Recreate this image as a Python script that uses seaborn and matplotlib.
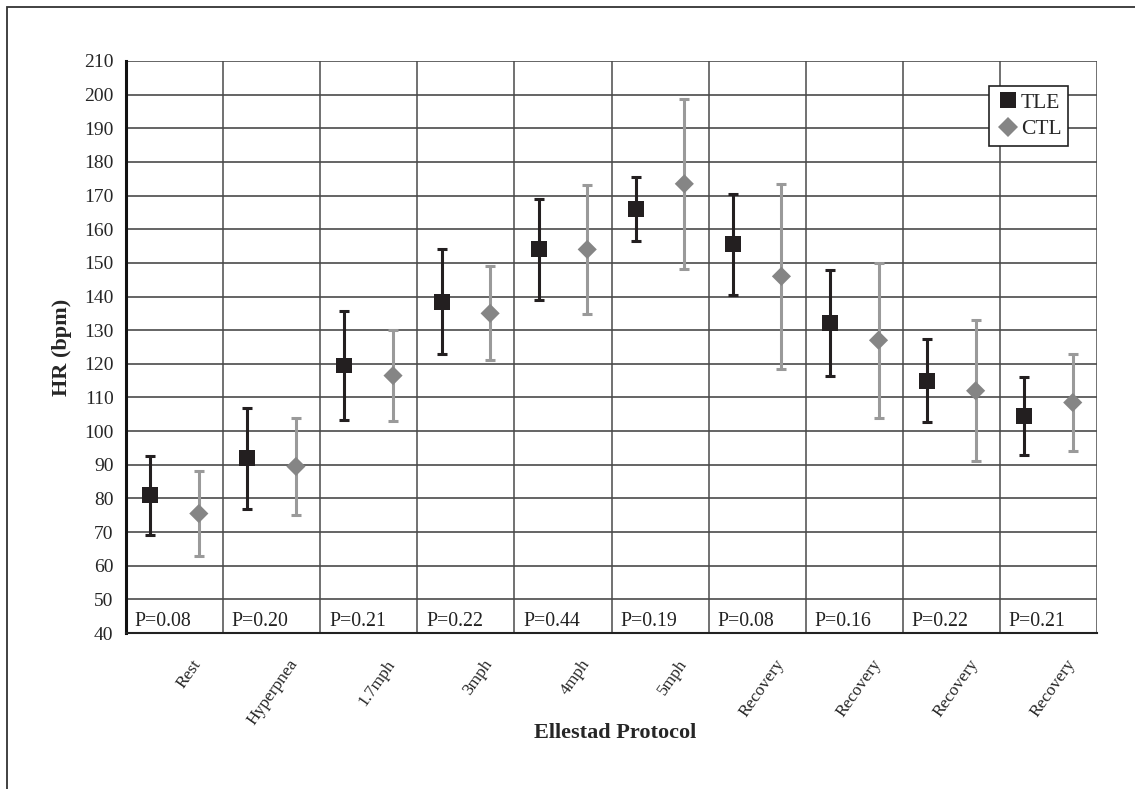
import matplotlib
matplotlib.use("Agg")
import matplotlib.pyplot as plt
import matplotlib.transforms as mtrans
from matplotlib.patches import Rectangle
import numpy as np
import pandas as pd
import seaborn as sns

stages = ["Rest", "Hyperpnea", "1.7mph", "3mph", "4mph", "5mph",
          "Recovery", "Recovery", "Recovery", "Recovery"]
p_values = ["P=0.08", "P=0.20", "P=0.21", "P=0.22", "P=0.44",
            "P=0.19", "P=0.08", "P=0.16", "P=0.22", "P=0.21"]
tle_mean = [81, 92, 119.5, 138.5, 154, 166, 155.5, 132, 115, 104.5]
tle_sd = [11.75, 15, 16.25, 15.5, 15, 9.5, 15, 15.75, 12.25, 11.5]
ctl_mean = [75.5, 89.5, 116.5, 135, 154, 173.5, 146, 127, 112, 108.5]
ctl_sd = [12.5, 14.5, 13.5, 14, 19.25, 25.25, 27.5, 23, 21, 14.5]

sns.set_style("white")
plt.rcParams['font.family'] = ['Liberation Serif', 'DejaVu Serif']

n = len(stages)
idx = np.arange(n)
df = pd.DataFrame({
    "x": np.concatenate([idx + 0.25, idx + 0.75]),
    "hr": tle_mean + ctl_mean,
    "sd": tle_sd + ctl_sd,
    "group": ["TLE"] * n + ["CTL"] * n,
})

fig = plt.figure(figsize=(11.35, 7.89), dpi=100)
ax = fig.add_axes([126 / 1135, 1 - 633 / 789, 971 / 1135, 572 / 789])

colors = {"TLE": "#231f20", "CTL": "#858585"}
bar_colors = {"TLE": "#231f20", "CTL": "#9a9a9a"}
for g, sub in df.groupby("group"):
    ax.errorbar(sub["x"], sub["hr"], yerr=sub["sd"], fmt="none",
                ecolor=bar_colors[g], elinewidth=2.2, capsize=3.6,
                capthick=2.2, zorder=3)

sns.scatterplot(data=df, x="x", y="hr", hue="group", style="group",
                size="group", sizes={"TLE": 132, "CTL": 95},
                palette=colors, markers={"TLE": "s", "CTL": "D"},
                linewidth=0, ax=ax, zorder=4)

ax.set_xlim(0, n)
ax.set_ylim(40, 210)
ax.set_yticks(np.arange(40, 211, 10))
ax.set_xticks(idx + 0.5)
ax.set_xticklabels(stages, rotation=55, ha="right", rotation_mode="anchor",
                   fontsize=12.5)
ax.set_xticks(idx, minor=True)
ax.tick_params(axis="x", which="major", length=0, pad=17)
ax.tick_params(axis="x", which="minor", length=7, width=1.2, color="#222")
ax.tick_params(axis="y", length=6, width=1.2, color="#222", labelsize=14,
               pad=3)
ax.grid(False)
for v in np.arange(50, 211, 10):
    ax.axhline(v, color="#3a3a3a", lw=1.1, zorder=1)
for v in range(1, n + 1):
    ax.axvline(v, color="#4a4a4a", lw=1.1, zorder=1)

shift = mtrans.ScaledTranslation(17 / 100, 0, fig.dpi_scale_trans)
for lab in ax.get_xticklabels():
    lab.set_transform(lab.get_transform() + shift)

for s in ["top", "right"]:
    ax.spines[s].set_visible(False)
ax.spines["left"].set_color("#111")
ax.spines["left"].set_linewidth(2.2)
ax.spines["bottom"].set_color("#222")
ax.spines["bottom"].set_linewidth(1.5)

for i, p in enumerate(p_values):
    ax.text(i + 0.09, 40.5, p, fontsize=14.3, ha="left", va="bottom",
            color="#222")

ax.set_xlabel("Ellestad Protocol", fontsize=16, fontweight="bold")
ax.xaxis.set_label_coords((615 - 126) / 971, (633 - 733) / 572)
ax.xaxis.label.set_va("center")
ax.set_ylabel("HR (bpm)", fontsize=16, fontweight="bold")
ax.yaxis.set_label_coords((62 - 126) / 971, 0.5)
ax.yaxis.label.set_va("center")

leg = ax.legend(loc="upper right", bbox_to_anchor=(1068 / 1135, 1 - 86 / 789),
                bbox_transform=fig.transFigure, fontsize=15.5, frameon=True,
                fancybox=False, framealpha=1, edgecolor="#222",
                handletextpad=0.0, handlelength=1.2, borderpad=0.3,
                labelspacing=0.3, borderaxespad=0)
leg.get_frame().set_linewidth(1.2)
for h, ms in zip(leg.legend_handles, [12, 10.5]):
    h.set_markersize(ms)

fig.patches.append(Rectangle((7 / 1135, -0.1), 1.2, 1.1 - 7 / 789,
                             transform=fig.transFigure, fill=False,
                             edgecolor="#333", lw=1.3))

fig.savefig("out.png", dpi=100)
